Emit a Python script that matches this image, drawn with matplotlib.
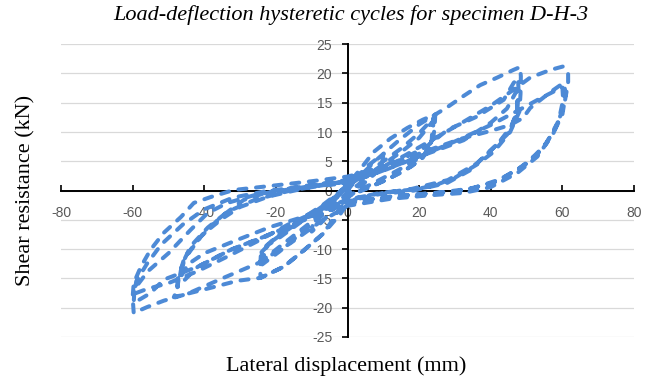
import matplotlib
matplotlib.use("Agg")
import matplotlib.pyplot as plt

# ── Hysteresis path (displacement mm, load kN) ────────────────────────────────
# Each cycle: push to the positive peak, back through zero, pull to the
# negative peak, back to zero.  Points are taken along the drawn curves.

cycle_05 = [(0, 0), (1.5, 1.2), (3, 2.2), (5, 3.2), (4.6, 2.0), (3, 1.0), (1, 0.2),
            (0, -0.3), (-1.5, -1.3), (-3, -2.4), (-5, -3.5), (-4.6, -2.3),
            (-3, -1.2), (-1, 0.1), (0, 0.6)]

cycle_10 = [(0, 0.6), (3, 2.6), (6, 4.4), (8.5, 5.6), (10, 6.2), (9.6, 4.5),
            (7.5, 2.8), (4.5, 1.2), (1.5, 0.1), (0, -0.5), (-3, -2.4), (-6, -4.6),
            (-8.5, -6.2), (-10, -7.0), (-9.6, -5.2), (-7.5, -3.4), (-4.5, -1.6),
            (-1.5, 0.2), (0, 1.0)]

cycle_25a = [(0, 1.0), (3.5, 3.6), (7.3, 6.6), (12, 8.9), (16.7, 10.7), (21, 12.1),
             (24.5, 13.0), (24.3, 10.5), (23.6, 8.0), (21.5, 6.2), (17.5, 4.6),
             (12, 2.8), (6, 0.9), (2, -0.3), (0, -1.2), (-2, -3.0), (-6.7, -7.3),
             (-12.2, -10.2), (-17.8, -13.0), (-24.3, -14.9), (-24.4, -13.0),
             (-24.2, -11.0), (-22, -9.2), (-18.7, -7.9), (-12.2, -5.0),
             (-7.5, -3.2), (-4.7, -2.1), (-2, -0.6), (0, 0.8)]

cycle_25b = [(0, 0.8), (5, 2.8), (10, 5.0), (15, 7.2), (20, 9.8), (24, 12.4),
             (23.8, 9.0), (22, 6.3), (18, 4.2), (12, 2.2), (6, 0.5), (0, -1.0),
             (-4, -2.8), (-9, -5.2), (-14, -7.8), (-19, -10.4), (-23.8, -12.6),
             (-24, -10.5), (-21, -8.6), (-16, -6.4), (-10, -4.0), (-5, -1.8),
             (0, 0.6)]

cycle_25c = [(0, 0.6), (5, 2.4), (10, 4.5), (15, 6.6), (20, 9.0), (23.8, 11.8),
             (23.5, 8.5), (21, 5.6), (16, 3.4), (10, 1.6), (4, 0.1), (0, -0.8),
             (-4, -2.5), (-9, -4.8), (-14, -7.2), (-19, -9.6), (-23.5, -11.8),
             (-23, -9.6), (-19, -7.4), (-13, -4.9), (-7, -2.5), (0, 0.8)]

cycle_48a = [(0, 0.8), (4, 2.8), (8, 5.2), (14, 8.4), (20, 11.3), (24.5, 13.0),
             (28, 14.3), (32.5, 16.2), (37, 18.0), (41.8, 19.3), (46.3, 20.6),
             (48.2, 21.1), (48.4, 19.5), (48.3, 16.5), (48, 13.5), (45.4, 10.0),
             (40.8, 6.6), (36, 4.4), (30, 2.2), (24, 0.8), (18.5, 0.2), (9, -0.4),
             (3, -1.2), (0, -2.2), (-2, -4.0), (-6.7, -7.3), (-12.2, -10.2),
             (-17.8, -13.0), (-24.3, -14.9), (-30.7, -15.4), (-38.2, -16.6),
             (-44.6, -17.6), (-48.5, -18.2), (-47.6, -17.0), (-47.4, -15.2),
             (-45.7, -11.8), (-41, -7.9), (-35.4, -4.5), (-29, -1.6), (-22, -0.2),
             (-14, 0.6), (-6, 1.3), (0, 1.8)]

cycle_48b = [(0, 1.8), (5, 2.8), (10, 4.0), (16, 5.6), (22, 7.5), (28, 10.4),
             (36, 12.6), (43.6, 15.5), (46.4, 18.4), (47.6, 19.2), (47.8, 16.5),
             (47.2, 13.0), (44.6, 9.6), (40, 6.9), (34.3, 3.5), (27.8, 1.3),
             (18.5, 0.0), (9, -0.6), (0, -1.8), (-7, -3.4), (-14, -5.5),
             (-23.4, -7.9), (-32.6, -10.1), (-41.8, -13.0), (-47.5, -16.5),
             (-47, -14.5), (-45, -11.0), (-40.5, -7.5), (-35, -4.8), (-30, -2.8),
             (-22, -1.0), (-12, 0.4), (0, 1.5)]

cycle_48c = [(0, 1.5), (6, 2.5), (14, 4.4), (20, 5.8), (25, 6.9), (32.4, 8.6),
             (40, 11.6), (44.5, 14.0), (47.2, 17.0), (47.4, 14.0), (46, 11.2),
             (42, 8.0), (36, 4.6), (28, 1.8), (18, 0.3), (8, -0.6), (0, -1.5),
             (-8, -3.4), (-14, -4.8), (-21.5, -6.2), (-30.7, -8.4), (-40, -10.7),
             (-44.6, -12.6), (-47, -15.2), (-46.2, -12.6), (-43.8, -9.5),
             (-39, -6.3), (-33.5, -3.6), (-26, -1.6), (-16, 0.0), (-6, 1.0),
             (0, 1.6)]

cycle_60a = [(0, 1.6), (8, 3.5), (16, 6.0), (24, 8.8), (32, 11.6), (40, 14.5),
             (47, 17.5), (51, 19.3), (56.6, 20.6), (60.2, 21.2), (61.6, 20.0),
             (61.6, 18.4), (60.4, 14.3), (57.5, 9.8), (53, 5.8), (47.4, 3.0),
             (40, 0.6), (32.4, -0.4), (23, -0.8), (12, -1.4), (0, -2.6),
             (-8, -5.5), (-16, -9.0), (-25, -12.4), (-35, -15.0), (-44.6, -17.6),
             (-51.3, -18.8), (-56, -19.9), (-59.7, -20.9), (-60, -18.2),
             (-59.7, -15.8), (-57.7, -13.0), (-55, -10.1), (-51.3, -7.2),
             (-46.5, -4.5), (-42.9, -2.1), (-38.2, -1.1), (-31.8, 0.1),
             (-20, 0.9), (-10, 1.6), (0, 2.4)]

cycle_60b = [(0, 2.4), (8, 3.6), (16, 5.4), (24, 7.2), (32, 8.9), (40, 10.2),
             (45.4, 11.2), (49, 12.4), (51, 14.1), (56.6, 16.8), (59.4, 18.0),
             (60.6, 18.2), (60.8, 16.0), (60, 13.0), (58, 10.5), (54, 6.8),
             (48, 3.8), (41, 1.4), (32, 0.0), (20, -0.6), (10, -1.2), (0, -2.2),
             (-7, -3.8), (-14, -5.5), (-23.4, -7.9), (-32.6, -10.1),
             (-41.8, -13.0), (-51.3, -15.2), (-55, -17.5), (-59.7, -19.2),
             (-59.5, -16.8), (-57.5, -15.2), (-55.8, -13.8), (-50, -10.7),
             (-43.8, -6.7), (-39, -3.8), (-33.5, -2.1), (-25, -0.6), (-12, 0.6),
             (0, 1.6)]

cycle_60c = [(0, 1.6), (10, 3.4), (20, 5.8), (30, 8.4), (40, 11.2), (48, 13.8),
             (54, 15.8), (58.5, 17.2), (60, 17.6), (60.2, 15.5), (59, 12.0),
             (55.5, 8.0), (50, 4.6), (43, 2.0), (35, 0.4), (25, -0.4), (12, -1.0),
             (0, -2.0), (-8, -3.4), (-16, -5.6), (-25, -8.6), (-34, -11.4),
             (-42, -13.8), (-50, -15.8), (-56, -16.8), (-59.5, -17.6),
             (-59, -15.5), (-56, -12.5), (-52, -9.2), (-46, -5.8), (-40, -3.2),
             (-32, -1.2), (-22, 0.0), (-10, 0.8), (0, 1.2)]

cycles = [cycle_05, cycle_10, cycle_25a, cycle_25b, cycle_25c,
          cycle_48a, cycle_48b, cycle_48c, cycle_60a, cycle_60b, cycle_60c]

x_ticks = list(range(-80, 81, 20))
y_ticks = list(range(-25, 26, 5))

title = "Load-deflection hysteretic cycles for specimen D-H-3"
x_label = "Lateral displacement (mm)"
y_label = "Shear resistance (kN)"

# one continuous path through all cycles
disp = [p[0] for c in cycles for p in c]
load = [p[1] for c in cycles for p in c]

# ── Draw ──────────────────────────────────────────────────────────────────────
plt.rcParams["font.family"] = ["Liberation Sans", "DejaVu Sans"]
plt.rcParams["axes.unicode_minus"] = False   # Excel uses a plain hyphen

fig = plt.figure(figsize=(6.61, 3.87), dpi=100)
ax = fig.add_axes([0.0923, 0.1292, 0.8669, 0.7566])

ax.plot(disp, load, color="#4d8ad6", lw=2.9, linestyle=(0, (2.0, 2.4)),
        dash_capstyle="round", solid_joinstyle="round", zorder=3)

ax.set_xlim(-80, 80)
ax.set_ylim(-25, 25)
ax.set_xticks(x_ticks)
ax.set_yticks(y_ticks)

# Excel-style axes crossing at the origin
for side in ("top", "right"):
    ax.spines[side].set_visible(False)
for side in ("left", "bottom"):
    ax.spines[side].set_position(("data", 0))
    ax.spines[side].set_color("black")
    ax.spines[side].set_linewidth(1.4)
    ax.spines[side].set_zorder(2.6)

ax.tick_params(axis="y", direction="out", length=4, width=1.2, pad=7,
               labelsize=10, labelcolor="#595959")
ax.tick_params(axis="x", direction="in", length=4, width=1.2, pad=11,
               labelsize=10, labelcolor="#595959")

ax.yaxis.grid(True, color="#d9d9d9", lw=0.9)
ax.set_axisbelow(True)

fig.text(0.531, 0.961, title, ha="center", va="center", fontsize=16,
         fontstyle="italic", family="Liberation Serif")
fig.text(0.523, 0.054, x_label, ha="center", va="center", fontsize=16,
         family="Liberation Serif")
fig.text(0.039, 0.509, y_label, ha="center", va="center", fontsize=16,
         rotation=90, family="Liberation Serif")

fig.savefig("out.png", dpi=100)
plt.close(fig)
